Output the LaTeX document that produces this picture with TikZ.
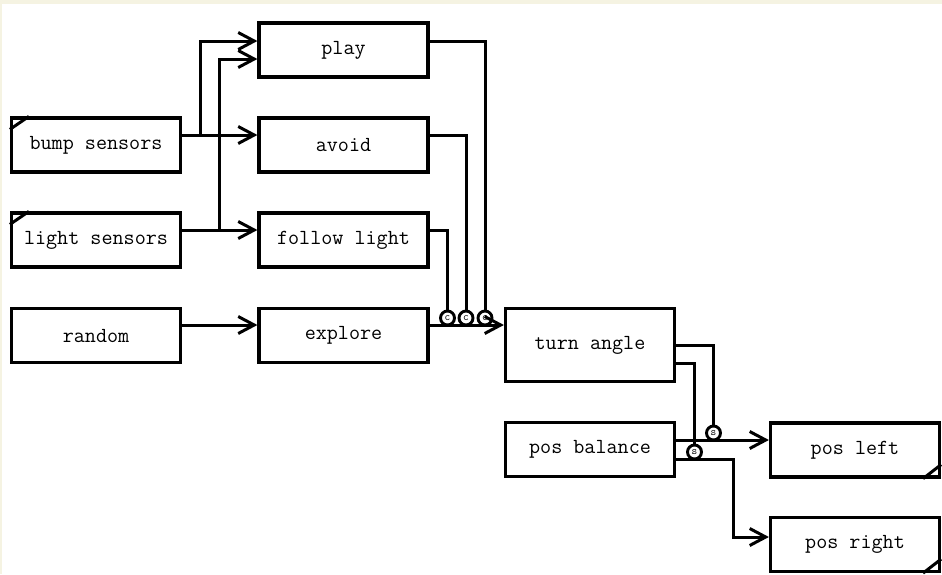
\documentclass[tikz,border=0pt]{standalone}
\usetikzlibrary{arrows.meta}
\definecolor{framecream}{HTML}{F5F3E2}

\begin{document}
\begin{tikzpicture}[x=1pt,y=-1pt,
 every node/.style={font=\ttfamily\fontsize{21.5}{24}\selectfont},
 blk/.style={draw,line width=3.2pt,fill=white,minimum width=169pt,minimum height=54pt,inner sep=0pt},
 conn/.style={line width=3pt},
 arr/.style={conn,-{Straight Barb[length=16pt,width=17pt,line width=3pt]}},
 joint/.style={circle,draw,line width=2.9pt,fill=white,minimum size=14pt,inner sep=0pt,
  font=\ttfamily\fontsize{11}{11}\selectfont},
 cornerln/.style={line width=3pt}]
\useasboundingbox (0,0) rectangle (942,574);
\fill[framecream] (0,0) rectangle (942,4);
\fill[framecream] (0,0) rectangle (2,574);
% sensors and behaviours
\node[blk] (bump) at (96,145) {bump sensors};
\node[blk] (light) at (96,240) {light sensors};
\node[blk] (random) at (96,335.5) {random};
\node[blk] (play) at (343.5,50) {play};
\node[blk] (avoid) at (343.5,145) {avoid};
\node[blk] (follow) at (343.5,240) {follow light};
\node[blk] (explore) at (343.5,335.5) {explore};
\node[blk,minimum height=73pt] (turn) at (590,345) {turn angle};
\node[blk] (posbal) at (590,449.5) {pos balance};
\node[blk] (posleft) at (855,450) {pos left};
\node[blk] (posright) at (855,544.5) {pos right};
% corner marks
\draw[cornerln] ([yshift=-13pt]bump.north west) -- ([xshift=19pt]bump.north west);
\draw[cornerln] ([yshift=-13pt]light.north west) -- ([xshift=19pt]light.north west);
\draw[cornerln] ([xshift=-18pt]posleft.south east) -- ([yshift=14pt]posleft.south east);
\draw[cornerln] ([xshift=-18pt]posright.south east) -- ([yshift=14pt]posright.south east);
% inhibitors and suppressors
\node[joint] (inhf) at (447.5,318) {c};
\node[joint] (inha) at (466,318) {c};
\node[joint] (inhp) at (485,318) {c};
\node[joint] (supl) at (713.5,433) {s};
\node[joint] (supr) at (694.5,452) {s};
% sensor wiring
\draw[arr] ([yshift=10pt]bump.east) -- ([yshift=10pt]avoid.west);
\draw[arr] ([yshift=10pt]bump.east) -- ++(18,0) |- ([yshift=9pt]play.west);
\draw[arr] ([yshift=10pt]light.east) -- ([yshift=10pt]follow.west);
\draw[arr] ([yshift=10pt]light.east) -- ++(37,0) |- ([yshift=-9pt]play.west);
\draw[arr] ([yshift=10.5pt]random.east) -- ([yshift=10.5pt]explore.west);
% behaviours into turn angle
\draw[arr] ([yshift=10.5pt]explore.east) -- ([yshift=20pt]turn.west);
\draw[conn] ([yshift=10pt]follow.east) -| (inhf.north);
\draw[conn] ([yshift=10pt]avoid.east) -| (inha.north);
\draw[conn] ([yshift=9pt]play.east) -| (inhp.north);
% motor outputs
\draw[conn] (turn.east) -| (supl.north);
\draw[conn] ([yshift=-18pt]turn.east) -| (supr.north);
\draw[arr] ([yshift=9.5pt]posbal.east) -- ([yshift=10pt]posleft.west);
\draw[arr] ([yshift=-9.5pt]posbal.east) -- ++(57,0) |- ([yshift=7.5pt]posright.west);
\end{tikzpicture}
\end{document}
